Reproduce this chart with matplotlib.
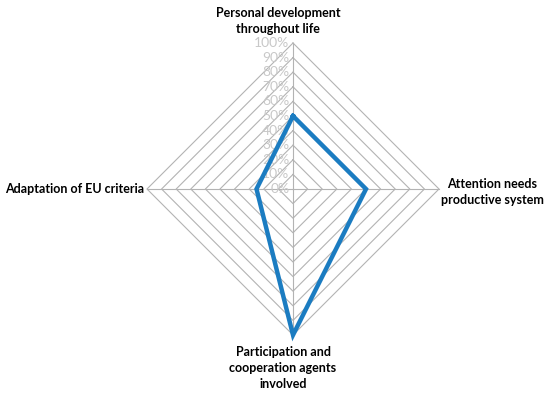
import numpy as np
import matplotlib.pyplot as plt

# Данные
categories = ['Personal development\nthroughout life',
              'Attention needs\nproductive system',
              'Participation and\ncooperation agents\ninvolved',
              'Adaptation of EU criteria']
values = [50, 50, 100, 25]
levels = [0, 10, 20, 30, 40, 50, 60, 70, 80, 90, 100]
tick_labels = [f'{v}%' for v in levels]

# Углы: верх, право, низ, лево
angles = np.pi / 2 - np.arange(len(categories)) * 2 * np.pi / len(categories)

fig = plt.figure(figsize=(5.5, 3.97), dpi=100)
ax = fig.add_axes([0, 0, 1, 1])
R = 146.0
cx, cy = 293.0, 189.0
ax.set_xlim(-cx / R, (550 - cx) / R)
ax.set_ylim(-(397 - cy) / R, cy / R)
ax.axis('off')

grid_color = '#b3b3b3'
ca = np.append(np.cos(angles), np.cos(angles[0]))
sa = np.append(np.sin(angles), np.sin(angles[0]))

# Сетка
for lv in levels[1:]:
    r = lv / 100
    ax.plot(r * ca, r * sa, color=grid_color, lw=0.8, zorder=1)
for a in angles:
    ax.plot([0, np.cos(a)], [0, np.sin(a)], color=grid_color, lw=0.8, zorder=1)

# Подписи уровней
for lv, lab in zip(levels, tick_labels):
    ax.text(-0.025, lv / 100, lab, ha='right', va='center',
            fontsize=10, color='#c8c8c8', family='Lato', zorder=2)

# Ряд
v = np.array(values + values[:1]) / 100
ax.plot(v * ca, v * sa, color='#1b7cc1', lw=3.2, solid_joinstyle='miter', zorder=3)

# Подписи категорий
font = dict(fontsize=9, fontweight='bold', family='Lato', color='black',
            linespacing=1.4)
ax.text(-15 / R, 1.0 + 8 / R, categories[0], ha='center', va='bottom', **font)
ax.text(1.0 + 53 / R, -3 / R, categories[1], ha='center', va='center', **font)
ax.text(-10 / R, -1.0 - 11 / R, categories[2], ha='center', va='top', **font)
ax.text(-1.0 - 3 / R, 0, categories[3], ha='right', va='center', **font)

plt.savefig('out.png', dpi=100)
plt.close()
